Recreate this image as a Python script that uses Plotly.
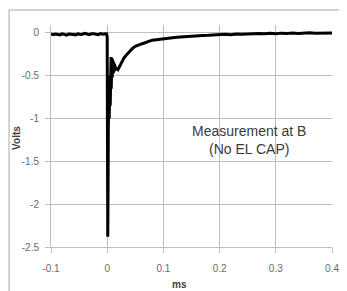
import plotly.graph_objects as go

# time in ms
t_ms = [-0.100, -0.096, -0.092, -0.088, -0.084, -0.080, -0.076, -0.072, -0.068, -0.064,
        -0.060, -0.056, -0.052, -0.048, -0.044, -0.040, -0.036, -0.032, -0.028, -0.024,
        -0.020, -0.016, -0.012, -0.008, -0.004, -0.001,
        0.0000, 0.0005, 0.0010, 0.0015, 0.0020, 0.0025, 0.0030, 0.0033, 0.0036, 0.0039,
        0.0042, 0.0045, 0.0048, 0.0051, 0.0054, 0.0057, 0.0060, 0.0063, 0.0066, 0.0069,
        0.0072, 0.0075, 0.0078, 0.0081, 0.0084, 0.0087, 0.0090, 0.0093, 0.0096, 0.0099,
        0.0102, 0.0106, 0.0110, 0.0114, 0.0118, 0.0122, 0.0126, 0.0130, 0.0135, 0.0140,
        0.0150, 0.0170, 0.0190, 0.0220, 0.0260,
        0.030, 0.035, 0.040, 0.045, 0.050, 0.055, 0.060, 0.065, 0.070, 0.075,
        0.080, 0.090, 0.100, 0.110, 0.120, 0.130, 0.140, 0.150, 0.160, 0.170,
        0.180, 0.190, 0.200, 0.210, 0.220, 0.230, 0.240, 0.250, 0.260, 0.270,
        0.280, 0.290, 0.300, 0.310, 0.320, 0.330, 0.340, 0.350, 0.360, 0.370,
        0.380, 0.390, 0.400]

volts = [-0.010, -0.020, -0.012, -0.018, -0.022, -0.010, -0.015, -0.025, -0.012, -0.018,
         -0.015, -0.022, -0.010, -0.018, -0.015, -0.005, -0.012, -0.020, -0.010, -0.008,
         -0.015, -0.020, -0.008, -0.015, -0.010, -0.012,
         -0.05, -1.50, -2.38, -1.90, -1.10, -0.62, -1.02, -0.60, -1.00, -0.58,
         -0.98, -0.55, -0.92, -0.50, -0.85, -0.42, -0.78, -0.35, -0.72, -0.28,
         -0.65, -0.30, -0.60, -0.30, -0.56, -0.31, -0.52, -0.32, -0.50, -0.33,
         -0.48, -0.34, -0.47, -0.35, -0.46, -0.36, -0.45, -0.37, -0.44, -0.39,
         -0.42, -0.42, -0.43, -0.39, -0.34,
         -0.29, -0.25, -0.21, -0.18, -0.155, -0.14, -0.13, -0.12, -0.105, -0.095,
         -0.085, -0.075, -0.065, -0.060, -0.052, -0.048, -0.042, -0.040, -0.032, -0.030,
         -0.028, -0.022, -0.020, -0.016, -0.020, -0.012, -0.015, -0.010, -0.012, -0.006,
         -0.010, -0.004, -0.008, -0.002, -0.006, 0.000, -0.005, -0.002, 0.002, -0.004,
         0.000, -0.003, 0.000]

x_ticks = [-0.1, 0, 0.1, 0.2, 0.3, 0.4]
x_tick_labels = ["-0.1", "0", "0.1", "0.2", "0.3", "0.4"]
y_ticks = [-2.5, -2, -1.5, -1, -0.5, 0]
y_tick_labels = ["-2.5", "-2", "-1.5", "-1", "-0.5", "0"]

OFF = 8  # page body margin
W, H = 347 - OFF, 291 - OFF
# plot area in page pixels: left 51, right 339, top 25, bottom 247
L, T = 51 - OFF, 25 - OFF
R = W - (339 - OFF)
B = H - (247 - OFF)
pw, ph = W - L - R, H - T - B

fig = go.Figure()
fig.add_trace(go.Scatter(x=t_ms, y=volts, mode="lines",
                         line=dict(color="black", width=3), showlegend=False))

tickfont = dict(family="Liberation Sans", size=10, color="#6a6a6a")
gridc = "#bdbdbd"
fig.update_xaxes(range=[-0.1, 0.4], tickvals=x_ticks, ticktext=x_tick_labels,
                 showgrid=True, gridcolor=gridc, gridwidth=1,
                 showline=True, linecolor=gridc, linewidth=1,
                 ticks="outside", ticklen=5, tickcolor=gridc,
                 ticklabelstandoff=7, tickfont=tickfont, zeroline=False)
fig.update_yaxes(range=[-2.5, 0.093], tickvals=y_ticks, ticktext=y_tick_labels,
                 showgrid=True, gridcolor=gridc, gridwidth=1,
                 showline=True, linecolor=gridc, linewidth=1,
                 ticks="outside", ticklen=5, tickcolor=gridc,
                 ticklabelstandoff=4, tickfont=tickfont, zeroline=False)

def px_x(p):
    return (p - OFF - L) / pw

def px_y(p):
    return (H - B - (p - OFF)) / ph

fig.add_shape(type="rect", xref="paper", yref="paper",
              x0=px_x(8), x1=px_x(352), y0=px_y(296), y1=px_y(10),
              line=dict(color="#a8a8a8", width=1), fillcolor="rgba(0,0,0,0)", layer="below")

fig.add_annotation(x=px_x(254), y=px_y(140), xref="paper", yref="paper",
                   xanchor="center", yanchor="middle",
                   text="Measurement at B<br>(No EL CAP)", showarrow=False,
                   font=dict(family="Liberation Sans", size=14, color="#3a3a3a"),
                   align="center")
fig.add_annotation(x=px_x(15), y=px_y(138), xref="paper", yref="paper",
                   xanchor="center", yanchor="middle",
                   text="<b>Volts</b>", showarrow=False, textangle=-90,
                   font=dict(family="Liberation Sans", size=10, color="#404040"))
fig.add_annotation(x=px_x(183), y=px_y(284), xref="paper", yref="paper",
                   xanchor="center", yanchor="middle",
                   text="<b>ms</b>", showarrow=False,
                   font=dict(family="Liberation Sans", size=10, color="#404040"))

fig.update_layout(width=W, height=H, margin=dict(l=L, r=R, t=T, b=B),
                  paper_bgcolor="white", plot_bgcolor="white")
fig.write_html("out.html")
